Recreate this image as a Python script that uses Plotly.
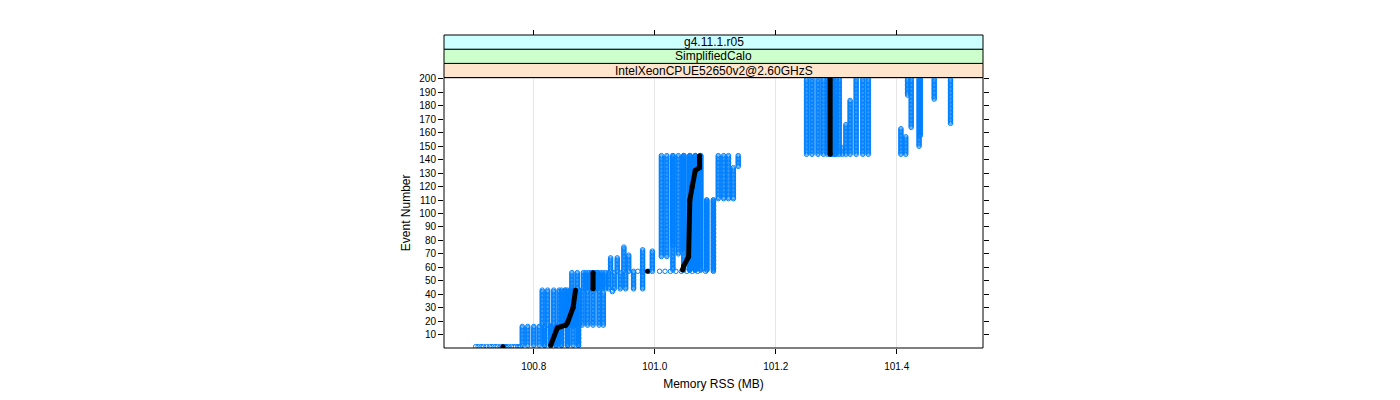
import plotly.graph_objects as go

# event numbers on the y axis
events = list(range(1, 201))

# memory RSS (MB) of each of the 20 runs, phase by phase
mem_ev1 = [100.704, 100.708, 100.713, 100.717, 100.722, 100.727, 100.731, 100.736, 100.740, 100.745,
           100.749, 100.754, 100.754, 100.758, 100.763, 100.767, 100.770, 100.774, 100.778, 100.750]
mem_ev2 = [100.781, 100.790, 100.800, 100.809, 100.818, 100.818, 100.828, 100.828, 100.828, 100.828,
           100.837, 100.837, 100.837, 100.846, 100.846, 100.856, 100.856, 100.865, 100.874, 100.874]
mem_ev17 = [100.814, 100.823, 100.833, 100.842, 100.846, 100.852, 100.852, 100.856, 100.861, 100.861,
            100.865, 100.865, 100.870, 100.870, 100.875, 100.880, 100.889, 100.898, 100.908, 100.915]
mem_ev44 = [100.863, 100.872, 100.882, 100.886, 100.980, 100.891, 100.895, 100.898, 100.898, 100.901,
            100.905, 100.910, 100.914, 100.919, 100.924, 100.933, 100.943, 100.952, 100.965, 100.905]
mem_ev57 = [100.927, 100.938, 100.949, 100.957, 100.980, 100.996, 100.965, 100.972, 100.981, 100.990,
            101.008, 101.017, 101.026, 101.035, 101.044, 101.053, 101.062, 101.071, 101.084, 101.097]
# event where each run reaches the big plateau, and its memory there
join_ev = [68, 68, 76, 70, 74, 73, 58, 58, 58, 58,
           58, 58, 58, 58, 58, 58, 58, 58, 58, 58]
mem_join = [101.011, 101.020, 101.030, 101.039, 101.048, 101.048, 101.058, 101.058, 101.067, 101.067,
            101.076, 101.076, 101.086, 101.086, 101.097, 101.097, 101.030, 101.058, 101.067, 101.048]
mem_ev144 = [101.251, 101.260, 101.270, 101.279, 101.286, 101.290, 101.290, 101.293, 101.298, 101.300,
             101.305, 101.310, 101.316, 101.323, 101.333, 101.344, 101.353, 101.407, 101.415, 101.295]
# single-run changes: run index, first event, memory
extra_run = [19, 12, 13, 14, 15, 15, 11, 18, 17, 12, 13, 8]
extra_ev = [42, 111, 111, 111, 111, 135, 150, 158, 164, 167, 185, 188]
extra_mem = [100.930, 101.105, 101.114, 101.122, 101.130, 101.138, 101.437, 101.439, 101.424, 101.489, 101.462, 101.418]

# median over runs (None = gap)
median_ev = [1, None, 2, 15, 17, 19, 30, 43, None, 44, 56, None, 57, None,
             58, 61, 68, 110, 120, 132, 134, 143, None, 144, 200]
median_mem = [100.749, None, 100.828, 100.839, 100.853, 100.856, 100.865, 100.869, None, 100.898, 100.898, None, 100.988, None,
              101.046, 101.048, 101.056, 101.058, 101.062, 101.067, 101.074, 101.074, None, 101.290, 101.290]

strip_labels = ['IntelXeonCPUE52650v2@2.60GHzS', 'SimplifiedCalo', 'g4.11.1.r05']
strip_colors = ['#ffe5cc', '#ccffcc', '#ccffff']

x_ticks = [100.8, 101.0, 101.2, 101.4]
y_ticks = list(range(10, 201, 10))

xs, ys = [], []
for r in range(len(mem_ev1)):
    brk = [(1, mem_ev1[r]), (2, mem_ev2[r]), (17, mem_ev17[r]), (44, mem_ev44[r]),
           (57, mem_ev57[r]), (join_ev[r], mem_join[r]), (144, mem_ev144[r])]
    brk += [(e, m) for k, e, m in zip(extra_run, extra_ev, extra_mem) if k == r]
    brk.sort()
    for ev in events:
        cur = [m for e, m in brk if e <= ev][-1]
        xs.append(cur)
        ys.append(ev)

FONT = 'Liberation Sans, Arial, sans-serif'
dom_top = 270.4 / 313.0
sh = (1 - dom_top) / 3

fig = go.Figure()
fig.add_trace(go.Scatter(x=xs, y=ys, mode='markers',
                         marker=dict(symbol='circle-open', size=4.5, color='#0080ff', line=dict(width=1)),
                         showlegend=False))
fig.add_trace(go.Scatter(x=median_mem, y=median_ev, mode='lines+markers',
                         line=dict(color='black', width=5), marker=dict(color='black', size=5),
                         showlegend=False))
fig.add_trace(go.Scatter(x=[None], y=[None], xaxis='x2', yaxis='y2', showlegend=False))

shapes = [dict(type='rect', xref='paper', yref='paper', x0=0, x1=1, y0=0, y1=dom_top,
               line=dict(color='black', width=1))]
annotations = []
for i, (lab, col) in enumerate(zip(strip_labels, strip_colors)):
    y0 = dom_top + i * sh
    shapes.append(dict(type='rect', xref='paper', yref='paper', x0=0, x1=1, y0=y0, y1=y0 + sh,
                       fillcolor=col, line=dict(color='black', width=1), layer='below'))
    annotations.append(dict(text=lab, xref='paper', yref='paper', x=0.5, y=y0 + sh / 2,
                            xanchor='center', yanchor='middle', showarrow=False,
                            font=dict(size=12, color='black', family=FONT)))

xr = [100.6516, 101.5427]
yr = [0, 201]
# the page body adds 8px, so margins are 8px smaller on left/top
fig.update_layout(
    width=1400, height=400, paper_bgcolor='white', plot_bgcolor='white',
    margin=dict(l=436, r=425, t=27, b=60),
    font=dict(family=FONT, color='black'),
    shapes=shapes, annotations=annotations,
    xaxis=dict(range=xr, tickvals=x_ticks, ticktext=['100.8', '101.0', '101.2', '101.4'],
               ticks='outside', ticklen=5, tickcolor='black', tickfont=dict(size=10),
               ticklabelstandoff=4,
               showgrid=True, gridcolor='#e6e6e6', zeroline=False, showline=False, automargin=False,
               title=dict(text='Memory RSS (MB)', font=dict(size=12), standoff=8)),
    xaxis2=dict(range=xr, overlaying='x', side='top', anchor='free', position=1, automargin=False,
                tickvals=x_ticks, ticks='outside', ticklen=5, tickcolor='black',
                showticklabels=False, showgrid=False, zeroline=False, showline=False),
    yaxis=dict(range=yr, domain=[0, dom_top], tickvals=y_ticks, ticks='outside', ticklen=5,
               tickcolor='black', tickfont=dict(size=10), showgrid=False, zeroline=False,
               showline=False, automargin=False,
               title=dict(text='Event Number', font=dict(size=12), standoff=6)),
    yaxis2=dict(range=yr, overlaying='y', side='right', anchor='x', tickvals=y_ticks, automargin=False,
                ticks='outside', ticklen=5, tickcolor='black', showticklabels=False,
                showgrid=False, zeroline=False, showline=False),
)

fig.write_html('out.html')
